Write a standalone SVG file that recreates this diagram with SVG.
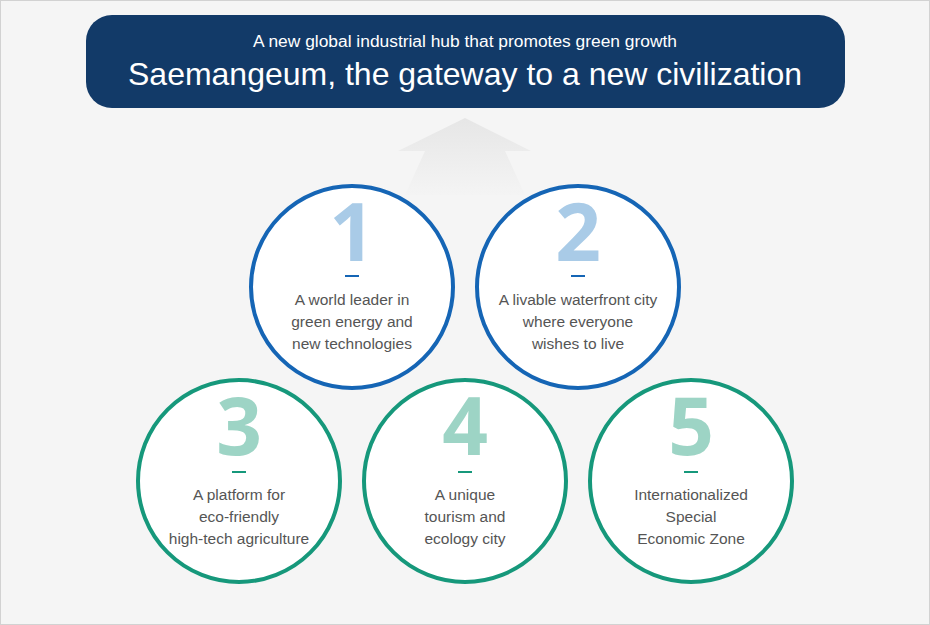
<svg xmlns="http://www.w3.org/2000/svg" width="930" height="625" viewBox="0 0 930 625">
<defs>
<linearGradient id="arrowGrad" x1="0" y1="0" x2="0" y2="1">
<stop offset="0" stop-color="#e6e6e6"/>
<stop offset="1" stop-color="#f4f4f4"/>
</linearGradient>
<style>
.ring{fill:#ffffff;stroke-width:4}
.blue{stroke:#1565b5}
.green{stroke:#16987b}
.num{font-family:"Open Sans","Liberation Sans",sans-serif;font-weight:700;font-size:80px;text-anchor:middle}
.nblue{fill:#a9cbe7}
.ngreen{fill:#9dd4c5}
.desc{font-family:"Liberation Sans","Noto Sans",sans-serif;font-size:15.5px;fill:#555555;text-anchor:middle}
.title{font-family:"Liberation Sans","Noto Sans",sans-serif;fill:#ffffff;text-anchor:middle}
</style>
</defs>
<rect x="0.5" y="0.5" width="929" height="624" fill="#f5f5f5" stroke="#d2d2d2"/>
<g id="connectors">
<polygon points="465,118 531,151 505,151 525,195 405,195 425,151 398,151" fill="url(#arrowGrad)"/>
</g>
<g id="banner">
<rect x="86" y="15" width="759" height="93" rx="26" fill="#123a68"/>
<text class="title" x="465" y="47" font-size="16" textLength="424" lengthAdjust="spacingAndGlyphs">A new global industrial hub that promotes green growth</text>
<text class="title" x="465" y="85" font-size="32" textLength="674" lengthAdjust="spacingAndGlyphs">Saemangeum, the gateway to a new civilization</text>
</g>
<g id="node1">
<circle class="ring blue" cx="352" cy="287" r="101"/>
<text class="num nblue" x="352" y="261">1</text>
<rect x="345" y="275" width="14" height="2" fill="#1565b5"/>
<text class="desc" x="352" y="305">A world leader in</text>
<text class="desc" x="352" y="327">green energy and</text>
<text class="desc" x="352" y="349">new technologies</text>
</g>
<g id="node2">
<circle class="ring blue" cx="578" cy="287" r="101"/>
<text class="num nblue" x="578" y="261">2</text>
<rect x="571" y="275" width="14" height="2" fill="#1565b5"/>
<text class="desc" x="578" y="305">A livable waterfront city</text>
<text class="desc" x="578" y="327">where everyone</text>
<text class="desc" x="578" y="349">wishes to live</text>
</g>
<g id="node3">
<circle class="ring green" cx="239" cy="481" r="101"/>
<text class="num ngreen" x="239" y="455">3</text>
<rect x="232" y="471" width="14" height="2" fill="#16987b"/>
<text class="desc" x="239" y="500">A platform for</text>
<text class="desc" x="239" y="522">eco-friendly</text>
<text class="desc" x="239" y="544">high-tech agriculture</text>
</g>
<g id="node4">
<circle class="ring green" cx="465" cy="481" r="101"/>
<text class="num ngreen" x="465" y="455">4</text>
<rect x="458" y="471" width="14" height="2" fill="#16987b"/>
<text class="desc" x="465" y="500">A unique</text>
<text class="desc" x="465" y="522">tourism and</text>
<text class="desc" x="465" y="544">ecology city</text>
</g>
<g id="node5">
<circle class="ring green" cx="691" cy="481" r="101"/>
<text class="num ngreen" x="691" y="455">5</text>
<rect x="684" y="471" width="14" height="2" fill="#16987b"/>
<text class="desc" x="691" y="500">Internationalized</text>
<text class="desc" x="691" y="522">Special</text>
<text class="desc" x="691" y="544">Economic Zone</text>
</g>
</svg>
